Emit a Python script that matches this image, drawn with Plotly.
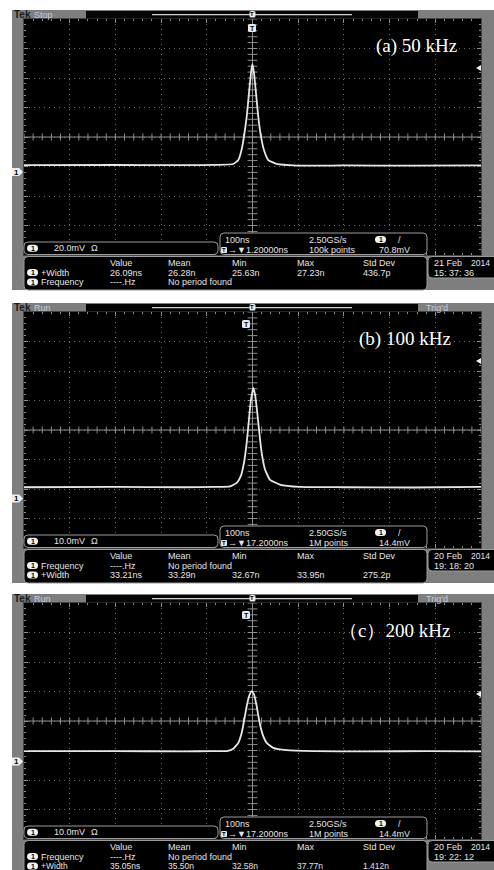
import plotly.graph_objects as go
import numpy as np

W, H = 494, 870

# ---------------- data (time in ns, voltage in mV) ----------------
t_a = [-500, -300, -150, -80, -42, -31, -24, -18.6, -12.7, -7, -3.3, -0.4, 3.3, 7.7, 12.7, 18.6, 25, 34.6, 53, 97, 200, 350, 500]
v_a = [4.7, 4.8, 4.7, 4.9, 5.5, 8.2, 15, 24, 37.5, 55.7, 67, 73.3, 67, 53.4, 37.5, 24, 15, 8.2, 5.5, 4.4, 4.5, 4.4, 4.5]

t_b = [-500, -300, -150, -80, -49, -34.6, -25.8, -18.6, -12.7, -7.7, -3.3, 1.8, 6.1, 10.5, 14.9, 20, 27.4, 38, 60, 104, 200, 350, 500]
v_b = [3.8, 3.9, 3.8, 3.9, 4.1, 5.3, 7.5, 12.1, 18.9, 26.8, 33.5, 37.5, 34.7, 29, 22.3, 15.5, 9.8, 6.4, 4.7, 3.9, 3.8, 3.7, 3.9]

t_c = [-500, -300, -150, -90, -56, -42, -31, -23.6, -17.9, -12.7, -7, -1.8, 3.3, 9.2, 14.9, 22.3, 31, 45.5, 75, 133, 250, 380, 500]
v_c = [3.5, 3.5, 3.4, 3.5, 3.5, 4.3, 6.3, 9.7, 14.2, 18.7, 22.3, 23.8, 22.7, 18.7, 13.6, 9.1, 6.3, 4.6, 3.8, 3.5, 3.4, 3.5, 3.4]

volts_per_div = [20, 10, 10]          # mV/div
ground_div = [-1.19, -2.32, -1.37]    # channel-1 ground marker, divisions from centre
ns_per_div = 100

labels = ["(a) 50 kHz", "(b) 100 kHz", "（c）200 kHz"]
status = ["Stop", "Run", "Run"]
trig_state = ["", "Trig'd", "Trig'd"]
ch_scale = ["20.0mV", "10.0mV", "10.0mV"]
tb_row1 = [["100ns", "2.50GS/s"], ["100ns", "2.50GS/s"], ["100ns", "2.50GS/s"]]
tb_pos = ["→▼1.20000ns", "→▼17.2000ns", "→▼17.2000ns"]
tb_points = ["100k points", "1M points", "1M points"]
tb_level = ["70.8mV", "14.4mV", "14.4mV"]
meas_header = ["Value", "Mean", "Min", "Max", "Std Dev"]
meas_rows = [
    [["+Width", "26.09ns", "26.28n", "25.63n", "27.23n", "436.7p"],
     ["Frequency", "----.Hz", "No period found", "", "", ""]],
    [["Frequency", "----.Hz", "No period found", "", "", ""],
     ["+Width", "33.21ns", "33.29n", "32.67n", "33.95n", "275.2p"]],
    [["Frequency", "----.Hz", "No period found", "", "", ""],
     ["+Width", "35.05ns", "35.50n", "32.58n", "37.77n", "1.412n"]],
]
dates = [["21 Feb", "2014", "15: 37: 36"], ["20 Feb", "2014", "19: 18: 20"], ["20 Feb", "2014", "19: 22: 12"]]
trig_arrow_rel = [68, 68, 110]     # px below panel top (right-edge arrow)
tmark_x = [252, 246, 246]
tmark_y = [28, 31, 31]
label_x = [375, 358, 338]

waves = [(t_a, v_a), (t_b, v_b), (t_c, v_c)]
offsets = [0, 293, 584]

# ---------------- helpers ----------------
def X(px):
    return px / W

def Y(py):
    return 1 - py / H

shapes, annots = [], []

def rect(x0, y0, x1, y1, fill, line=None, lw=0, layer='above'):
    shapes.append(dict(type='rect', xref='paper', yref='paper', x0=X(x0), x1=X(x1), y0=Y(y1), y1=Y(y0),
                       fillcolor=fill, line=dict(color=line or fill, width=lw), layer=layer))

def rrect(x0, y0, x1, y1, r, fill, line='#9c9c9c', lw=1, layer='above'):
    p = (f"M {X(x0+r)},{Y(y0)} L {X(x1-r)},{Y(y0)} Q {X(x1)},{Y(y0)} {X(x1)},{Y(y0+r)} "
         f"L {X(x1)},{Y(y1-r)} Q {X(x1)},{Y(y1)} {X(x1-r)},{Y(y1)} L {X(x0+r)},{Y(y1)} "
         f"Q {X(x0)},{Y(y1)} {X(x0)},{Y(y1-r)} L {X(x0)},{Y(y0+r)} Q {X(x0)},{Y(y0)} {X(x0+r)},{Y(y0)} Z")
    shapes.append(dict(type='path', xref='paper', yref='paper', path=p, fillcolor=fill,
                       line=dict(color=line, width=lw), layer=layer))

def poly(pts, fill, layer='above'):
    p = "M " + " L ".join(f"{X(a)},{Y(b)}" for a, b in pts) + " Z"
    shapes.append(dict(type='path', xref='paper', yref='paper', path=p, fillcolor=fill,
                       line=dict(color=fill, width=0), layer=layer))

def line(x0, y0, x1, y1, color, w=1):
    shapes.append(dict(type='line', xref='paper', yref='paper', x0=X(x0), x1=X(x1), y0=Y(y0), y1=Y(y1),
                       line=dict(color=color, width=w), layer='above'))

def txt(px, py, s, size=9, color='#e4e4e4', family='Liberation Sans', anchor='left', bold=False):
    if bold:
        s = f"<b>{s}</b>"
    annots.append(dict(x=X(px), y=Y(py), xref='paper', yref='paper', text=s, showarrow=False,
                       xanchor=anchor, yanchor='middle', font=dict(size=size, color=color, family=family),
                       borderpad=0))

def icon1(px, py):
    rrect(px, py - 3.5, px + 11, py + 3.5, 3.5, '#f2f2f2', line='#f2f2f2', lw=0)
    txt(px + 5.5, py, "1", size=7, color='#000', anchor='center', bold=True)

GRAY = '#7e7e7e'
fig = go.Figure()

for i in range(3):
    o = offsets[i]
    n = '' if i == 0 else str(i + 1)
    s = volts_per_div[i]
    g = ground_div[i]
    center_mv = -g * s
    ymin, ymax = (-4 - g) * s, (4 - g) * s

    # frame
    rect(12, 10 + o, 494, 290 + o, GRAY, layer='below')
    rect(24, 19 + o, 481, 255 + o, '#000000', layer='below')
    rect(86, 11 + o, 418, 18.5 + o, '#050505')
    line(152, 14.6 + o, 352, 14.6 + o, '#d0d0d0', 1.4)
    rrect(249.5, 11 + o, 255.5, 17.5 + o, 1.5, '#e8e8e8', line='#e8e8e8', lw=0)
    txt(252.5, 14.3 + o, "T", size=6, color='#000', anchor='center', bold=True)
    txt(13, 14.5 + o, "Tek", size=10, color='#1a1a1a', bold=True)
    txt(33, 14.5 + o, status[i], size=9, color='#c4cde0')
    if trig_state[i]:
        txt(425, 14.5 + o, trig_state[i], size=9, color='#c4cde0')

    # axes
    dom_y = [Y(255 + o), Y(19 + o)]
    common = dict(showticklabels=False, zeroline=False, showgrid=True, gridcolor='#707070',
                  griddash='1px,4px', gridwidth=1, ticks='inside', ticklen=4, tickcolor='#8c8c8c',
                  mirror='allticks', showline=True, linecolor='#444444', fixedrange=True)
    fig.update_layout(**{
        f'xaxis{n}': dict(domain=[X(24), X(481)], range=[-5 * ns_per_div, 5 * ns_per_div], tick0=0,
                          dtick=ns_per_div, anchor=f'y{n}',
                          minor=dict(tick0=0, dtick=ns_per_div / 5, ticks='inside', ticklen=2,
                                     tickcolor='#8c8c8c', showgrid=False), **common),
        f'yaxis{n}': dict(domain=dom_y, range=[ymin, ymax], tick0=center_mv, dtick=s, anchor=f'x{n}',
                          minor=dict(tick0=center_mv, dtick=s / 5, ticks='inside', ticklen=2,
                                     tickcolor='#8c8c8c', showgrid=False), **common),
    })
    xa, ya = f'x{n}', f'y{n}'
    # centre crosshair
    fig.add_trace(go.Scatter(x=[-500, 500], y=[center_mv, center_mv], mode='lines',
                             line=dict(color='#8e8e8e', width=1), xaxis=xa, yaxis=ya, hoverinfo='skip'))
    fig.add_trace(go.Scatter(x=[0, 0], y=[ymin, ymax], mode='lines',
                             line=dict(color='#8e8e8e', width=1), xaxis=xa, yaxis=ya, hoverinfo='skip'))
    tx = np.arange(-500, 501, ns_per_div / 5)
    fig.add_trace(go.Scatter(x=tx, y=[center_mv] * len(tx), mode='markers',
                             marker=dict(symbol='line-ns', size=5, line=dict(color='#8e8e8e', width=1)),
                             xaxis=xa, yaxis=ya, hoverinfo='skip'))
    ty = center_mv + np.arange(-20, 21) * s / 5
    fig.add_trace(go.Scatter(x=[0] * len(ty), y=ty, mode='markers',
                             marker=dict(symbol='line-ew', size=7, line=dict(color='#8e8e8e', width=1)),
                             xaxis=xa, yaxis=ya, hoverinfo='skip'))
    # waveform
    t, v = waves[i]
    fig.add_trace(go.Scatter(x=t, y=v, mode='lines', line=dict(color='#e6e6e6', width=1.8, shape='spline', smoothing=0.4),
                             xaxis=xa, yaxis=ya, hoverinfo='skip'))

    # markers on graticule
    gy = 137 + o - g * 29.5
    poly([(12, gy - 4), (19, gy - 4), (23, gy), (19, gy + 4), (12, gy + 4)], '#efefef')
    txt(16.5, gy, "1", size=8, color='#000', anchor='center', bold=True)
    ay = trig_arrow_rel[i] + o
    poly([(476, ay), (481, ay - 3), (481, ay + 3)], '#efefef')
    rrect(tmark_x[i] - 4, tmark_y[i] + o - 4, tmark_x[i] + 4, tmark_y[i] + o + 4, 1.5, '#e8e8e8', line='#e8e8e8', lw=0)
    txt(tmark_x[i], tmark_y[i] + o, "T", size=7, color='#000', anchor='center', bold=True)

    # label
    txt(label_x[i], 46 + o, labels[i], size=19, color='#ffffff', family='Liberation Serif')

    # channel box
    rrect(24, 242 + o, 218, 254.5 + o, 4, '#000000')
    icon1(27, 248.3 + o)
    txt(53, 248.3 + o, ch_scale[i], size=9)
    txt(90, 248.3 + o, "Ω", size=9)

    # timebase box
    rrect(220, 233 + o, 427, 254.5 + o, 4, '#000000')
    txt(224, 239.5 + o, tb_row1[i][0], size=9)
    txt(308, 239.5 + o, tb_row1[i][1], size=9)
    icon1(375, 239.5 + o)
    txt(397, 239.5 + o, "/", size=9)
    rrect(221, 247 + o, 227, 253 + o, 1, '#e8e8e8', line='#e8e8e8', lw=0)
    txt(224, 250 + o, "T", size=6, color='#000', anchor='center', bold=True)
    txt(227, 250.2 + o, tb_pos[i], size=9)
    txt(308, 250.2 + o, tb_points[i], size=9)
    txt(378, 250.2 + o, tb_level[i], size=9)

    # measurement box
    rrect(24, 256.5 + o, 427, 290 + o, 4, '#000000')
    cols = [109, 167, 231, 296, 362]
    for c, hdr in zip(cols, meas_header):
        txt(c, 262.5 + o, hdr, size=9)
    for r, row in enumerate(meas_rows[i]):
        ry = 272.5 + 9.5 * r + o
        icon1(27, ry)
        txt(40, ry, row[0], size=9 if r == 0 or i < 2 else 8.5)
        for c, val in zip(cols, row[1:]):
            if val:
                txt(c, ry, val, size=9 if r == 0 or i < 2 else 8.5)

    # date box
    rrect(428, 256.5 + o, 500, 278 + o, 4, '#000000')
    txt(433, 262.5 + o, dates[i][0], size=9)
    txt(470, 262.5 + o, dates[i][1], size=8.5)
    txt(433, 273 + o, dates[i][2], size=9)

fig.update_layout(width=W, height=H, margin=dict(l=0, r=0, t=0, b=0), autosize=False,
                  paper_bgcolor='#ffffff', plot_bgcolor='rgba(0,0,0,0)', showlegend=False,
                  shapes=shapes, annotations=annots)
fig.write_html("out.html", config={'displayModeBar': False},
               post_script="document.body.style.margin='0';")
